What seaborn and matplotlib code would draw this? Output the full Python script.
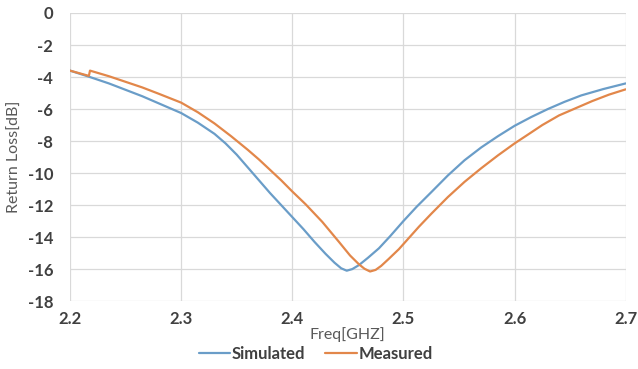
# import packages
import numpy as np
import pandas as pd
import matplotlib
matplotlib.use("Agg")
import matplotlib.pyplot as plt
import seaborn as sns

# data
sim_freq = [2.200, 2.217, 2.235, 2.250, 2.265, 2.280, 2.300, 2.315, 2.330, 2.340,
            2.350, 2.360, 2.370, 2.380, 2.390, 2.400, 2.410, 2.420, 2.430, 2.438,
            2.444, 2.449, 2.454, 2.460, 2.468, 2.478, 2.488, 2.500, 2.512, 2.525,
            2.540, 2.555, 2.570, 2.585, 2.600, 2.615, 2.630, 2.645, 2.660, 2.680,
            2.700]
sim_rl = [-3.60, -3.98, -4.40, -4.80, -5.20, -5.65, -6.25, -6.85, -7.55, -8.15,
          -8.85, -9.65, -10.45, -11.25, -12.00, -12.75, -13.50, -14.30, -15.05, -15.60,
          -15.95, -16.10, -16.00, -15.75, -15.30, -14.70, -13.95, -13.00, -12.10, -11.20,
          -10.15, -9.20, -8.40, -7.70, -7.05, -6.50, -6.00, -5.55, -5.15, -4.75,
          -4.40]

meas_freq = [2.200, 2.217, 2.218, 2.235, 2.250, 2.265, 2.280, 2.300, 2.315, 2.330,
             2.345, 2.360, 2.370, 2.380, 2.390, 2.400, 2.412, 2.427, 2.442, 2.452,
             2.460, 2.465, 2.470, 2.475, 2.480, 2.487, 2.496, 2.505, 2.514, 2.525,
             2.540, 2.555, 2.570, 2.585, 2.600, 2.612, 2.625, 2.640, 2.655, 2.670,
             2.685, 2.700]
meas_rl = [-3.60, -3.93, -3.60, -3.95, -4.30, -4.65, -5.05, -5.60, -6.20, -6.90,
           -7.70, -8.55, -9.15, -9.80, -10.45, -11.15, -11.95, -13.05, -14.30, -15.15,
           -15.70, -15.98, -16.15, -16.05, -15.80, -15.35, -14.75, -14.05, -13.35, -12.55,
           -11.50, -10.55, -9.70, -8.90, -8.15, -7.60, -7.00, -6.40, -5.95, -5.50,
           -5.10, -4.77]

series_names = ["Simulated", "Measured"]
x_ticks = [2.2, 2.3, 2.4, 2.5, 2.6, 2.7]
y_ticks = [0, -2, -4, -6, -8, -10, -12, -14, -16, -18]

# build a long dataframe for seaborn
df = pd.concat([
    pd.DataFrame({"freq": sim_freq, "rl": sim_rl, "series": series_names[0]}),
    pd.DataFrame({"freq": meas_freq, "rl": meas_rl, "series": series_names[1]}),
], ignore_index=True)

sns.set_style("white")
plt.rcParams["font.family"] = ["Lato", "DejaVu Sans"]

fig = plt.figure(figsize=(6.38, 3.69), dpi=100)
ax = fig.add_axes([0.1097, 0.184, 0.871, 0.7808])

palette = {"Simulated": "#6a9dc8", "Measured": "#e2874a"}
sns.lineplot(data=df, x="freq", y="rl", hue="series", palette=palette,
             sort=False, estimator=None, linewidth=1.6, ax=ax, legend=True)

ax.set_xlim(2.2, 2.7)
ax.set_ylim(-18, 0)
ax.set_xticks(x_ticks)
ax.set_xticklabels([f"{t:.1f}" for t in x_ticks])
ax.set_yticks(y_ticks)
ax.set_yticklabels([str(t) for t in y_ticks])
ax.grid(True, color="#d9d9d9", linewidth=0.9)
ax.set_axisbelow(True)
for s in ax.spines.values():
    s.set_visible(False)

ax.tick_params(axis="both", length=0, labelsize=12, labelcolor="#404040")
ax.tick_params(axis="y", pad=12)
ax.tick_params(axis="x", pad=7)
for lab in ax.get_xticklabels() + ax.get_yticklabels():
    lab.set_fontweight("bold")

ax.set_xlabel("Freq[GHZ]", fontsize=11.5, color="#595959", labelpad=0)
ax.set_ylabel("Return Loss[dB]", fontsize=11.5, color="#595959", labelpad=4)

# move the legend to the bottom of the figure
handles, labels = ax.get_legend_handles_labels()
ax.get_legend().remove()
leg = fig.legend(handles, labels, loc="center", bbox_to_anchor=(0.495, 0.041), ncol=2,
                 frameon=False, handlelength=1.9, handletextpad=0.1,
                 columnspacing=1.2, borderaxespad=0, borderpad=0,
                 prop={"size": 12, "weight": "bold"})
for t in leg.get_texts():
    t.set_color("#404040")

fig.savefig("out.png", dpi=100)
